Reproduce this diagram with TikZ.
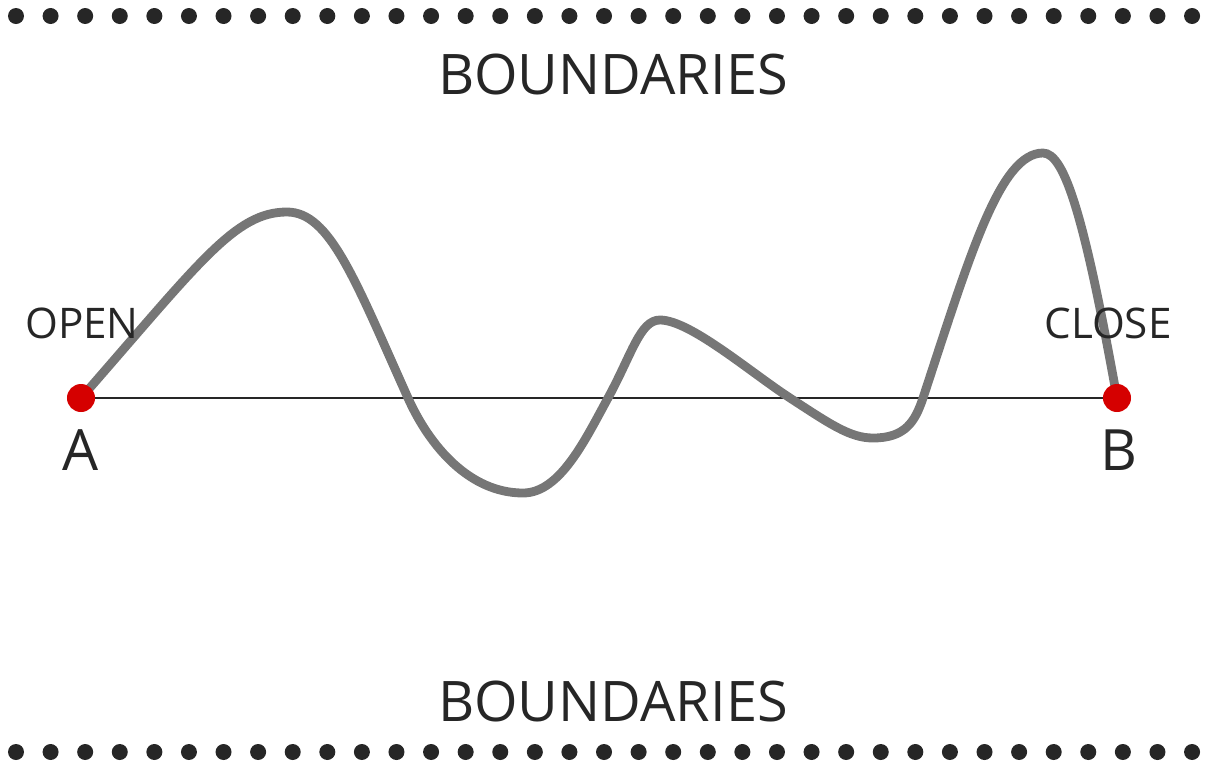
\documentclass[tikz,border=0pt]{standalone}
\usepackage{fontspec}
\setmainfont{Open Sans}
\usepackage{tikz}
\usetikzlibrary{positioning}

\definecolor{inkgray}{HTML}{262626}
\definecolor{wavegray}{HTML}{767676}
\definecolor{pointred}{HTML}{D50000}

\begin{document}
\begin{tikzpicture}[x=0.01cm,y=-0.01cm,
    title/.style={inner sep=0pt,text=inkgray,font=\fontsize{15.9}{20}\selectfont},
    side/.style={inner sep=0pt,text=inkgray,font=\fontsize{12}{14}\selectfont},
    letter/.style={inner sep=0pt,text=inkgray,font=\fontsize{16.2}{20}\selectfont},
    pt/.style={circle,fill=pointred,inner sep=0pt,minimum size=0.28cm},
    wave/.style={line width=0.088cm,wavegray,line cap=round},
    base/.style={line width=0.45pt,inkgray}]
    \useasboundingbox (0,0) rectangle (1208,763);

    % dotted rows
    \foreach \i in {0,...,34} {
        \fill[inkgray] (16+34.59*\i,16) circle (8);
        \fill[inkgray] (16+34.59*\i,752) circle (8);
    }

    % boundaries
    \node[title] (top) at (613,74) {BOUNDARIES};
    \node[title] (bottom) at (613,701) {BOUNDARIES};

    % end points
    \coordinate (A) at (81,398);
    \coordinate (B) at (1117,398);

    % straight line and the wandering path
    \draw[base] (A) -- (B);
    \draw[wave] (A) .. controls (200,262) and (235,212) .. (287,212)
        .. controls (330,212) and (355,280) .. (408,398)
        .. controls (430,447) and (470,493) .. (523,493)
        .. controls (560,493) and (585,440) .. (608,398)
        .. controls (632,354) and (640,320) .. (660,320)
        .. controls (690,320) and (750,372) .. (790,398)
        .. controls (830,424) and (850,438) .. (873,438)
        .. controls (905,438) and (915,422) .. (923,398)
        .. controls (970,255) and (1000,153) .. (1043,153)
        .. controls (1065,153) and (1085,220) .. (B);

    \node[pt] (ptA) at (A) {};
    \node[pt] (ptB) at (B) {};

    % labels
    \node[side] (open) at (82,323) {OPEN};
    \node[side] (close) at (1108,323) {CLOSE};
    \node[letter] (labA) at (81,450) {A};
    \node[letter] (labB) at (1119,450) {B};
\end{tikzpicture}
\end{document}
